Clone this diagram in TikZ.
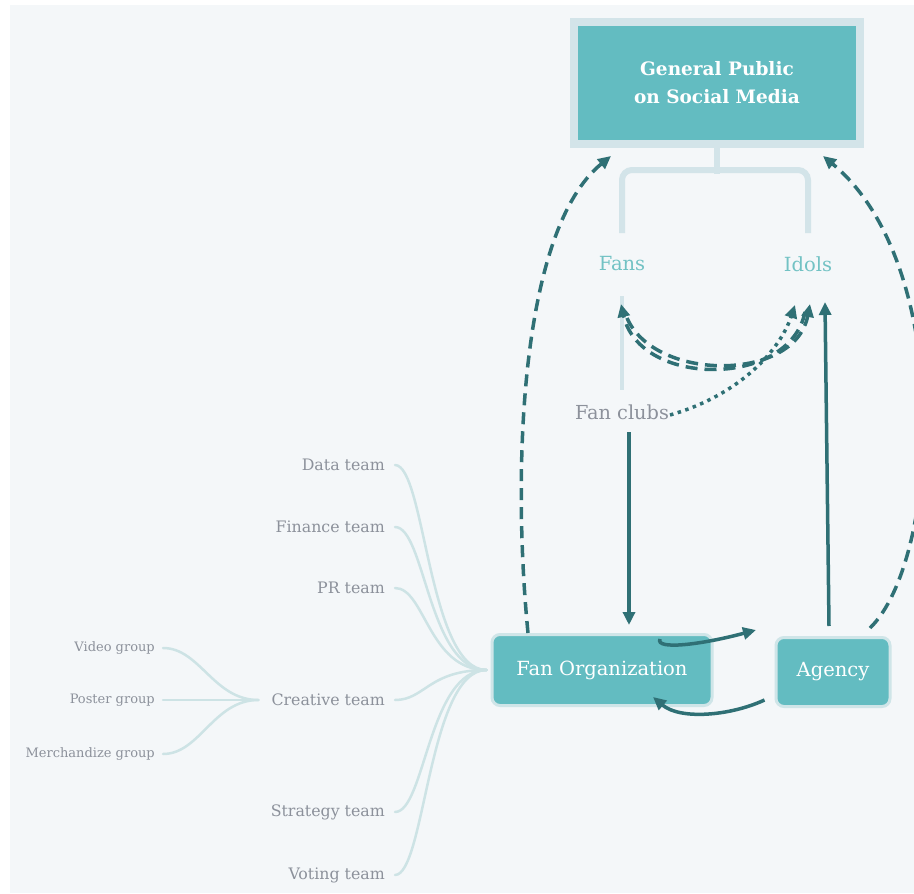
\documentclass[tikz,border=0pt]{standalone}
\usepackage{fontspec}
\setmainfont{DejaVu Serif}
\usetikzlibrary{arrows.meta}
\definecolor{bgc}{HTML}{F4F7F9}
\definecolor{tealc}{HTML}{63BCC1}
\definecolor{tealb}{HTML}{CFE5E8}
\definecolor{framec}{HTML}{D3E4E9}
\definecolor{darkc}{HTML}{2F7075}
\definecolor{lightc}{HTML}{CDE3E5}
\definecolor{grayt}{HTML}{8C919B}
\definecolor{fanc}{HTML}{72C2C4}
\tikzset{
  box/.style={fill=tealc, draw=tealb, line width=3pt, rounded corners=8pt, text=white, font=\fontsize{19.5}{23}\selectfont},
  toplabel/.style={fill=tealc, draw=framec, line width=8pt, text=white, align=center, font=\bfseries\fontsize{18.5}{28}\selectfont, minimum width=286pt, minimum height=122pt},
  teamlbl/.style={text=grayt, inner sep=0pt, anchor=east, font=\fontsize{15.8}{18}\selectfont},
  grouplbl/.style={text=grayt, inner sep=0pt, anchor=east, font=\fontsize{13}{15}\selectfont},
  rolelbl/.style={text=fanc, inner sep=0pt, font=\fontsize{19.5}{22}\selectfont},
  clublbl/.style={text=grayt, inner sep=0pt, font=\fontsize{19.3}{22}\selectfont},
  treeline/.style={draw=lightc, line width=2.5pt, line cap=round},
  bracketline/.style={draw=framec, line width=6pt},
  tip/.style={-{Triangle[length=13pt,width=12pt]}},
  solidarrow/.style={draw=darkc, line width=3.5pt, tip},
  dasharrow/.style={draw=darkc, line width=3.5pt, dash pattern=on 12pt off 7pt, tip},
  dotarrow/.style={draw=darkc, line width=3.5pt, dash pattern=on 3.5pt off 4.5pt, tip},
}
\begin{document}
\begin{tikzpicture}[x=1pt,y=-1pt]
\useasboundingbox (0,0) rectangle (914,894);
\fill[bgc] (10,5) rectangle (914,893);

% nodes
\node[toplabel] (gp) at (717,83) {General Public\\on Social Media};
\node[rolelbl] (fans) at (622,264) {Fans};
\node[rolelbl] (idols) at (808,264) {Idols};
\node[clublbl] (fc) at (622,412) {Fan clubs};
\node[box, minimum width=220pt, minimum height=71pt] (fo) at (602,670) {Fan Organization};
\node[box, minimum width=114pt, minimum height=69pt] (ag) at (833,672) {Agency};

\node[teamlbl] (data) at (385,465) {Data team};
\node[teamlbl] (fin) at (385,527) {Finance team};
\node[teamlbl] (pr) at (385,588) {PR team};
\node[teamlbl] (cre) at (385,700) {Creative team};
\node[teamlbl] (str) at (385,812) {Strategy team};
\node[teamlbl] (vot) at (385,875) {Voting team};

\node[grouplbl] (vid) at (155,648) {Video group};
\node[grouplbl] (pos) at (155,700) {Poster group};
\node[grouplbl] (mer) at (155,754) {Merchandize group};

% bracket from General Public to Fans / Idols
\draw[bracketline] (gp.south) -- ++(0,26);
\draw[bracketline, rounded corners=10pt] ([yshift=31pt]fans.center) -- (622,170) -- (808,170) -- ([yshift=31pt]idols.center);
\draw[draw=framec, line width=4pt] ([yshift=-32pt]fans.center) -- ([yshift=22pt]fc.center);

% tree connectors
\coordinate (foL) at ([xshift=-4pt]fo.west);
\foreach \n in {data,fin,pr,cre,str,vot}{
  \draw[treeline] ([xshift=10pt]\n.east) .. controls ([xshift=40pt]\n.east) and ([xshift=-58pt]foL) .. (foL);
}
\coordinate (creL) at ([xshift=-13pt]cre.west);
\foreach \n in {vid,pos,mer}{
  \draw[treeline] ([xshift=8pt]\n.east) .. controls ([xshift=45pt]\n.east) and ([xshift=-45pt]creL) .. (creL);
}

% arrows
\draw[solidarrow] ([xshift=7pt,yshift=-20pt]fc.center) -- ([xshift=27pt,yshift=8pt]fo.north);
\draw[solidarrow] ([xshift=-4pt,yshift=10pt]ag.north) -- ([xshift=17pt,yshift=-38pt]idols.center);
\draw[dasharrow] ([xshift=-74pt]fo.north) .. controls (512,470) and (520,230) .. ([xshift=-106pt,yshift=-8pt]gp.south);
\draw[dasharrow] ([xshift=37pt,yshift=8pt]ag.north) .. controls (940,560) and (955,265) .. ([xshift=106pt,yshift=-8pt]gp.south);
\draw[dasharrow] ([xshift=-3pt,yshift=-48pt]idols.center) .. controls (790,388) and (640,388) .. ([xshift=-1pt,yshift=-40pt]fans.center);
\draw[dasharrow] ([xshift=5pt,yshift=-54pt]fans.center) .. controls (655,382) and (795,382) .. ([xshift=2pt,yshift=-40pt]idols.center);
\draw[dotarrow] ([xshift=48pt,yshift=-3pt]fc.center) .. controls (740,395) and (780,350) .. ([xshift=-13pt,yshift=-41pt]idols.center);
\draw[solidarrow] ([xshift=58pt,yshift=-6pt]fo.north) .. controls (655,650) and (700,645) .. ([xshift=-77pt,yshift=6pt]ag.north);
\draw[solidarrow] ([xshift=-10pt,yshift=-28pt]ag.west) .. controls (730,716) and (680,720) .. ([xshift=51pt,yshift=10pt]fo.south);
\end{tikzpicture}
\end{document}
